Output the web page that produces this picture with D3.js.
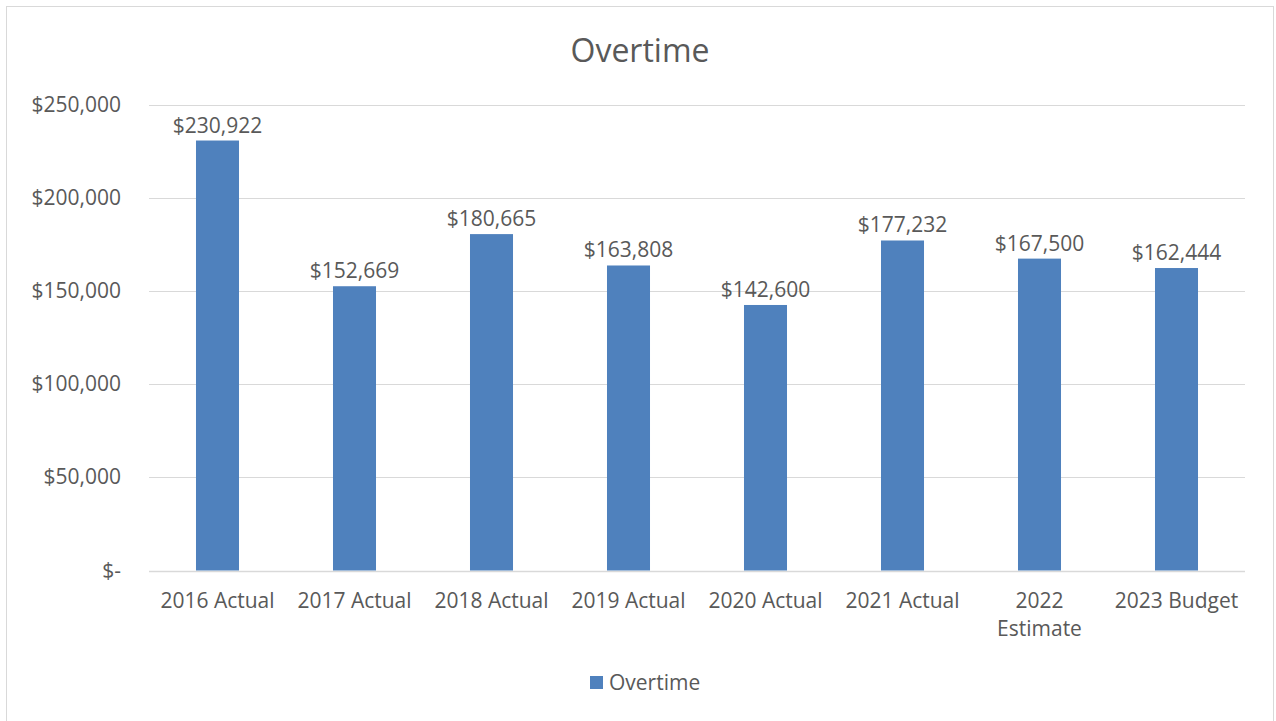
<!DOCTYPE html>
<html>
<head>
<meta charset="utf-8">
<script src="https://cdn.jsdelivr.net/npm/d3@7"></script>
<style>
  body { margin: 0; background: #fff; }
  svg text { font-family: "Open Sans", Lato, sans-serif; fill: #595959; }
</style>
</head>
<body>
<div id="chart"></div>
<script>
var categories = [["2016 Actual"], ["2017 Actual"], ["2018 Actual"], ["2019 Actual"],
                  ["2020 Actual"], ["2021 Actual"], ["2022", "Estimate"], ["2023 Budget"]];
var values = [230922, 152669, 180665, 163808, 142600, 177232, 167500, 162444];
var yTicks = [0, 50000, 100000, 150000, 200000, 250000];

var width = 1276, height = 721;
var margin = {top: 105, right: 31, bottom: 151, left: 149};

var svg = d3.select('#chart').append('svg')
    .attr('width', width)
    .attr('height', height);

// chart border
svg.append('rect')
    .attr('x', 6.5).attr('y', 6.5)
    .attr('width', 1267).attr('height', 730)
    .attr('fill', 'none')
    .attr('stroke', '#d9d9d9');

svg.append('text')
    .attr('x', 640).attr('y', 62)
    .attr('text-anchor', 'middle')
    .style('font-size', '32px')
    .text('Overtime');

var x = d3.scaleBand()
    .domain(d3.range(categories.length))
    .range([margin.left, width - margin.right])
    .paddingInner(0.686)
    .paddingOuter(0.343);

var y = d3.scaleLinear()
    .domain([0, 250000])
    .range([height - margin.bottom + 0.5, margin.top]);

var fmt = d3.format(',');

svg.append('g').selectAll('line')
  .data(yTicks)
  .enter().append('line')
    .attr('x1', margin.left)
    .attr('x2', width - margin.right)
    .attr('y1', function(d) { return Math.round(y(d)) + 0.5; })
    .attr('y2', function(d) { return Math.round(y(d)) + 0.5; })
    .attr('stroke', '#d9d9d9')
    .attr('stroke-width', function(d) { return d === 0 ? 1.5 : 1; });

svg.append('g').selectAll('text')
  .data(yTicks)
  .enter().append('text')
    .attr('x', 121)
    .attr('y', function(d) { return y(d) + 7; })
    .attr('text-anchor', 'end')
    .style('font-size', '21px')
    .text(function(d) { return d === 0 ? '$-' : '$' + fmt(d); });

svg.append('g').selectAll('rect')
  .data(values)
  .enter().append('rect')
    .attr('x', function(d, i) { return x(i); })
    .attr('y', function(d) { return y(d); })
    .attr('width', x.bandwidth())
    .attr('height', function(d) { return y(0) - y(d); })
    .attr('fill', '#4f81bd');

svg.append('g').selectAll('text')
  .data(values)
  .enter().append('text')
    .attr('x', function(d, i) { return x(i) + x.bandwidth() / 2; })
    .attr('y', function(d) { return y(d) - 8; })
    .attr('text-anchor', 'middle')
    .style('font-size', '21px')
    .text(function(d) { return '$' + fmt(d); });

var xl = svg.append('g').selectAll('text')
  .data(categories)
  .enter().append('text')
    .attr('x', function(d, i) { return x(i) + x.bandwidth() / 2; })
    .attr('y', 608)
    .attr('text-anchor', 'middle')
    .style('font-size', '21px');

xl.selectAll('tspan')
  .data(function(d, i) { return d.map(function(s) { return {s: s, cx: x(i) + x.bandwidth() / 2}; }); })
  .enter().append('tspan')
    .attr('x', function(d) { return d.cx; })
    .attr('dy', function(d, j) { return j === 0 ? 0 : 28; })
    .text(function(d) { return d.s; });

// legend
var legend = svg.append('g').attr('transform', 'translate(590,676)');
legend.append('rect')
    .attr('width', 13).attr('height', 13)
    .attr('fill', '#4f81bd');
legend.append('text')
    .attr('x', 19).attr('y', 14)
    .style('font-size', '21px')
    .text('Overtime');
</script>
</body>
</html>
